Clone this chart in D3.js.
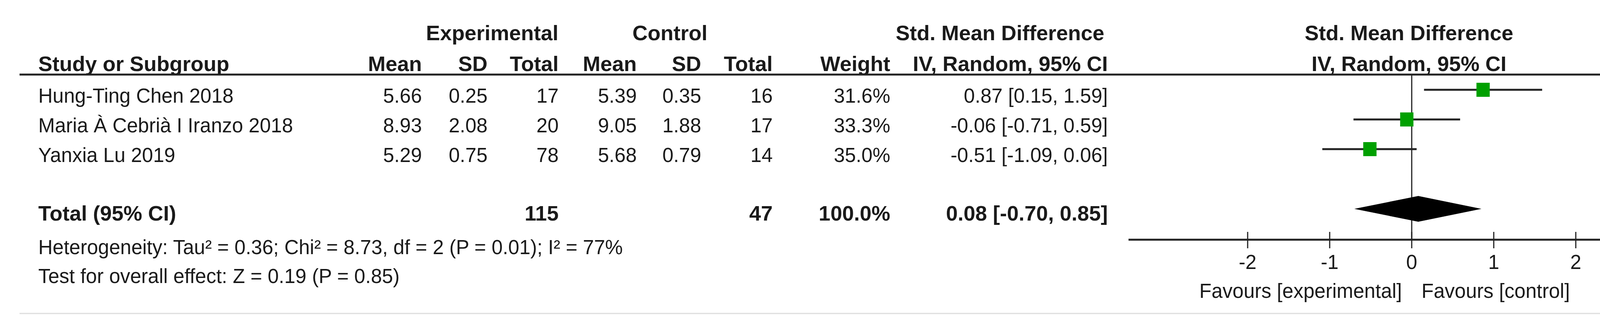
<!DOCTYPE html><html><head><meta charset="utf-8"><script src="https://cdn.jsdelivr.net/npm/d3@7"></script>
<style>body{margin:0;background:#fff}text{font-family:"Liberation Sans",Arial,sans-serif;fill:#1a1a1a}</style></head><body>
<svg id="c" width="4433" height="853"></svg>
<script>
const studies=["Hung-Ting Chen 2018","Maria À Cebrià I Iranzo 2018","Yanxia Lu 2019"];
const expMean=["5.66","8.93","5.29"], expSD=["0.25","2.08","0.75"], expN=["17","20","78"];
const ctlMean=["5.39","9.05","5.68"], ctlSD=["0.35","1.88","0.79"], ctlN=["16","17","14"];
const weights=["31.6%","33.3%","35.0%"];
const smd=[0.87,-0.06,-0.51], lo=[0.15,-0.71,-1.09], hi=[1.59,0.59,0.06];
const ciText=["0.87 [0.15, 1.59]","-0.06 [-0.71, 0.59]","-0.51 [-1.09, 0.06]"];
const total={label:"Total (95% CI)",expN:"115",ctlN:"47",w:"100.0%",est:0.08,lo:-0.70,hi:0.85,txt:"0.08 [-0.70, 0.85]"};
const foot=["Heterogeneity: Tau² = 0.36; Chi² = 8.73, df = 2 (P = 0.01); I² = 77%","Test for overall effect: Z = 0.19 (P = 0.85)"];
const ticks=[-2,-1,0,1,2];

const svg=d3.select("#c"), fs=51, fb=54;
const x=d3.scaleLinear().domain([-2,2]).range([3194,4034]);
const rowY=d3.scalePoint().domain(studies).range([245,397]);
const T=(t,xx,y,anchor,bold,size)=>svg.append("text").attr("x",xx).attr("y",y).attr("dy","0.35em")
  .attr("text-anchor",anchor||"start").attr("font-weight",bold?"bold":"normal").attr("font-size",size||(bold?fb:fs)).text(t);
T("Experimental",1260,84,"middle",1);T("Control",1715,84,"middle",1);
T("Std. Mean Difference",2560,84,"middle",1);T("Std. Mean Difference",3607,84,"middle",1);
T("Study or Subgroup",98,163,"start",1);
[["Mean",1080],["SD",1248],["Total",1430],["Mean",1630],["SD",1795],["Total",1978],["Weight",2279],["IV, Random, 95% CI",2836]].forEach(d=>T(d[0],d[1],163,"end",1));
T("IV, Random, 95% CI",3607,163,"middle",1);
svg.append("line").attr("x1",50).attr("x2",4390).attr("y1",191).attr("y2",191).attr("stroke","#222").attr("stroke-width",5);
const cols=[[expMean,1080],[expSD,1248],[expN,1430],[ctlMean,1630],[ctlSD,1795],[ctlN,1978],[weights,2279],[ciText,2836]];
studies.forEach((s,i)=>{const y=rowY(s);T(s,98,y);cols.forEach(c=>T(c[0][i],c[1],y,"end"));});
const ty=546;
T(total.label,98,ty,"start",1);T(total.expN,1430,ty,"end",1);T(total.ctlN,1978,ty,"end",1);T(total.w,2279,ty,"end",1);T(total.txt,2836,ty,"end",1);
T(foot[0],98,633);T(foot[1],98,707);
svg.append("line").attr("x1",x(0)).attr("x2",x(0)).attr("y1",191).attr("y2",614).attr("stroke","#222").attr("stroke-width",3);
studies.forEach((s,i)=>{const y=rowY(s)-15;
  svg.append("line").attr("x1",x(lo[i])).attr("x2",x(hi[i])).attr("y1",y).attr("y2",y).attr("stroke","#222").attr("stroke-width",5);
  svg.append("rect").attr("x",x(smd[i])-17).attr("y",y-18).attr("width",34).attr("height",36).attr("fill","#00a000");});
const dy=535;
svg.append("path").attr("d",`M${x(total.lo)},${dy}L${x(total.est)},${dy-33}L${x(total.hi)},${dy}L${x(total.est)},${dy+33}Z`).attr("fill","#000");
const ax=svg.append("g").attr("transform","translate(0,614)");
ax.append("line").attr("x1",2889).attr("x2",4341).attr("stroke","#222").attr("stroke-width",5);
ticks.forEach(t=>ax.append("line").attr("x1",x(t)).attr("x2",x(t)).attr("y1",-20).attr("y2",22).attr("stroke","#222").attr("stroke-width",3));
ticks.forEach(t=>T(String(t),x(t),671,"middle"));
T("Favours [experimental]",3589,745,"end",0).attr("fill","#444");
T("Favours [control]",3639,745,"start",0).attr("fill","#444");
svg.append("line").attr("x1",50).attr("x2",4390).attr("y1",803).attr("y2",803).attr("stroke","#ddd").attr("stroke-width",3);
</script></body></html>
